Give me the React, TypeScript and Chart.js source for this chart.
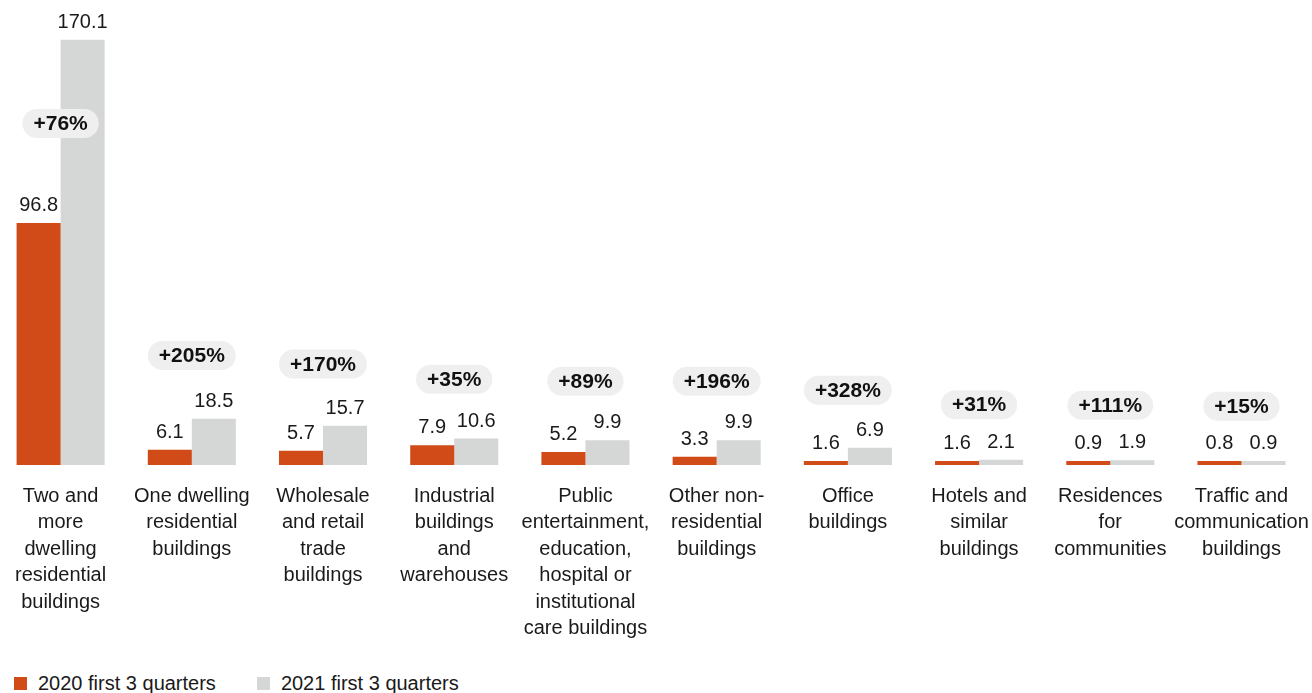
import React, { useEffect, useRef } from "react";
import { Chart, registerables } from "chart.js";

Chart.register(...registerables);

const categories: string[][] = [
  ["Two and", "more", "dwelling", "residential", "buildings"],
  ["One dwelling", "residential", "buildings"],
  ["Wholesale", "and retail", "trade", "buildings"],
  ["Industrial", "buildings", "and", "warehouses"],
  ["Public", "entertainment,", "education,", "hospital or", "institutional", "care buildings"],
  ["Other non-", "residential", "buildings"],
  ["Office", "buildings"],
  ["Hotels and", "similar", "buildings"],
  ["Residences", "for", "communities"],
  ["Traffic and", "communication", "buildings"],
];

const values2020 = [96.8, 6.1, 5.7, 7.9, 5.2, 3.3, 1.6, 1.6, 0.9, 0.8];
const values2021 = [170.1, 18.5, 15.7, 10.6, 9.9, 9.9, 6.9, 2.1, 1.9, 0.9];
const changeLabels = ["+76%", "+205%", "+170%", "+35%", "+89%", "+196%", "+328%", "+31%", "+111%", "+15%"];
const seriesNames = ["2020 first 3 quarters", "2021 first 3 quarters"];
const seriesColors = ["#d04b17", "#d5d6d6"];

const FONT = "'Liberation Sans', Arial, Helvetica, sans-serif";
const TEXT = "#1a1a1a";

const labelPlugin = {
  id: "barLabels",
  afterDatasetsDraw(chart: any) {
    const ctx = chart.ctx as CanvasRenderingContext2D;
    const m0 = chart.getDatasetMeta(0);
    const m1 = chart.getDatasetMeta(1);
    const base = chart.scales.y.getPixelForValue(0);
    ctx.save();
    // value labels
    ctx.font = `20px ${FONT}`;
    ctx.fillStyle = TEXT;
    ctx.textAlign = "center";
    ctx.textBaseline = "alphabetic";
    [m0, m1].forEach((meta: any, d: number) => {
      const vals = d === 0 ? values2020 : values2021;
      meta.data.forEach((el: any, i: number) => {
        ctx.fillText(vals[i].toFixed(1), el.x, el.y - 12);
      });
    });
    // change pills
    ctx.font = `bold 21px ${FONT}`;
    changeLabels.forEach((txt, i) => {
      const o = m0.data[i];
      const g = m1.data[i];
      const cx = (o.x + g.x) / 2;
      let cy = g.y - (54 + 0.2 * (base - g.y));
      if (o.y - g.y > 100) cy = (o.y + g.y) / 2 - 8;
      const tw = ctx.measureText(txt).width;
      const w = tw + 22;
      const h = 29;
      const r = h / 2;
      const x0 = cx - w / 2;
      const y0 = cy - h / 2;
      ctx.fillStyle = "#efefef";
      ctx.beginPath();
      ctx.moveTo(x0 + r, y0);
      ctx.lineTo(x0 + w - r, y0);
      ctx.arc(x0 + w - r, y0 + r, r, -Math.PI / 2, Math.PI / 2);
      ctx.lineTo(x0 + r, y0 + h);
      ctx.arc(x0 + r, y0 + r, r, Math.PI / 2, (3 * Math.PI) / 2);
      ctx.closePath();
      ctx.fill();
      ctx.fillStyle = "#111111";
      ctx.textBaseline = "middle";
      ctx.fillText(txt, cx, cy + 1);
    });
    ctx.restore();
  },
};

export default function App() {
  const ref = useRef<HTMLCanvasElement | null>(null);
  useEffect(() => {
    if (!ref.current) return;
    const chart = new Chart(ref.current, {
      type: "bar",
      data: {
        labels: categories,
        datasets: [
          { label: seriesNames[0], data: values2020, backgroundColor: seriesColors[0] },
          { label: seriesNames[1], data: values2021, backgroundColor: seriesColors[1] },
        ],
      },
      options: {
        responsive: true,
        maintainAspectRatio: false,
        animation: false,
        layout: { autoPadding: false, padding: { top: 15, bottom: 0, left: 0, right: 5 } } as any,
        datasets: { bar: { categoryPercentage: 0.671, barPercentage: 1, minBarLength: 4 } } as any,
        plugins: { legend: { display: false }, tooltip: { enabled: false } },
        scales: {
          x: {
            grid: { display: false, drawTicks: false },
            border: { display: false },
            ticks: {
              autoSkip: false,
              maxRotation: 0,
              minRotation: 0,
              padding: 18,
              color: TEXT,
              font: { family: FONT, size: 20, lineHeight: 1.325 },
            },
          },
          y: {
            display: false,
            min: 0,
            max: 180,
          },
        },
      },
      plugins: [labelPlugin],
    });
    return () => chart.destroy();
  }, []);

  return (
    <div style={{ position: "absolute", left: -5, top: 0, width: 1317, height: 693, overflow: "hidden" }}>
      <div style={{ position: "absolute", left: 0, top: 0, width: 1332, height: 660 }}>
        <canvas ref={ref} />
      </div>
      <div
        style={{
          position: "absolute",
          left: 19,
          top: 671,
          display: "flex",
          alignItems: "center",
          fontFamily: FONT,
          fontSize: 20,
          color: TEXT,
          lineHeight: "24px",
        }}
      >
        {seriesNames.map((n, i) => (
          <div key={n} style={{ display: "flex", alignItems: "center", marginRight: 41 }}>
            <span style={{ display: "inline-block", width: 13, height: 13, background: seriesColors[i], marginRight: 11 }} />
            <span>{n}</span>
          </div>
        ))}
      </div>
    </div>
  );
}
